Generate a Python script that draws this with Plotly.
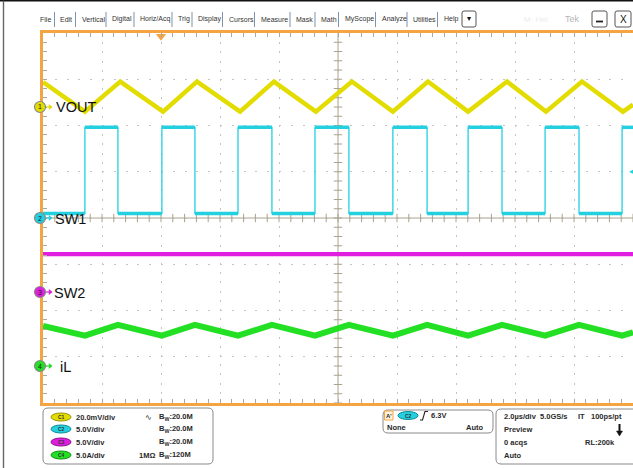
import plotly.graph_objects as go
import numpy as np

W, H = 633, 468

# ---------------- data (read from the screen) ----------------
# channel setup
ch_names = ["VOUT", "SW1", "SW2", "iL"]
ch_scale = [20.0, 5.0, 5.0, 5.0]          # units per division (mV, V, V, A)
ch_pos = [2.4, 0.0, -1.6, -3.2]           # ground marker position, divisions

# C1 VOUT (mV, AC ripple)
vout_t = [0.0, 1.42, 2.62, 4.07, 5.22, 6.68, 7.83, 9.25, 10.47, 11.86,
          13.05, 14.41, 15.73, 17.05, 18.27, 19.66, 20.0]
vout_mv = [10.8, -2.0, 11.0, -2.0, 11.0, -2.0, 11.0, -2.0, 11.0, -2.0,
           11.0, -2.0, 11.0, -2.0, 11.0, -2.0, 1.0]

# C2 SW1 (V) switching edges
sw1_rise_us = [1.42, 4.03, 6.61, 9.22, 11.86, 14.41, 17.02, 19.63]
sw1_fall_us = [2.54, 5.15, 7.76, 10.37, 13.02, 15.56, 18.17]
sw1_low_v = 0.5
sw1_high_v = 9.8

# C3 SW2 (V)
sw2_t = [0.0, 20.0]
sw2_v = [4.1, 4.1]

# C4 iL (A)
il_t = [0.0, 1.42, 2.54, 4.03, 5.15, 6.61, 7.76, 9.22, 10.37, 11.86,
        13.02, 14.41, 15.56, 17.02, 18.17, 19.63, 20.0]
il_a = [4.33, 3.28, 4.45, 3.28, 4.45, 3.28, 4.45, 3.28, 4.45, 3.28,
        4.45, 3.28, 4.45, 3.28, 4.45, 3.28, 3.65]

# timebase
t_per_div = 2.0
n_xdiv = 10
n_ydiv = 8
trig_t = 4.0
trig_level_div = 1.0

menu_items = ["File", "Edit", "Vertical", "Digital", "Horiz/Acq", "Trig", "Display",
              "Cursors", "Measure", "Mask", "Math", "MyScope", "Analyze", "Utilities", "Help"]

# ---------------- styling ----------------
C_Y = "#e3dc00"
C_C = "#22d0e0"
C_M = "#e01ee0"
C_G = "#24e024"
ORANGE = "#f4a542"
GRID = "#c4c4c4"
CENTER = "#aaa28e"
ch_col = [C_Y, C_C, C_M, C_G]
ch_dark = ["#9a9400", "#0e8e9a", "#8e108e", "#129012"]

X0PX, X1PX, Y0PX, Y1PX = 43, 633, 33, 403

def px(x):
    return x / W

def py(y):
    return 1 - y / H

def div_to_py(d):
    return (Y0PX + Y1PX) / 2 - d * (Y1PX - Y0PX) / n_ydiv

def to_div(vals, k):
    return [ch_pos[k] + v / ch_scale[k] for v in vals]

fig = go.Figure()

# center tick marks (decoration)
tx = np.arange(0, t_per_div * n_xdiv + 1e-9, t_per_div / 5)
ty = np.arange(-n_ydiv / 2, n_ydiv / 2 + 1e-9, 0.2)
fig.add_trace(go.Scatter(x=tx, y=[0] * len(tx), mode="markers", hoverinfo="skip",
                         marker=dict(symbol="line-ns", size=6, line=dict(color=CENTER, width=1))))
fig.add_trace(go.Scatter(x=[10] * len(ty), y=ty, mode="markers", hoverinfo="skip",
                         marker=dict(symbol="line-ew", size=6, line=dict(color=CENTER, width=1))))

# SW2
fig.add_trace(go.Scatter(x=sw2_t, y=to_div(sw2_v, 2), mode="lines",
                         line=dict(color=C_M, width=4.2)))
# iL
fig.add_trace(go.Scatter(x=il_t, y=to_div(il_a, 3), mode="lines",
                         line=dict(color=C_G, width=6)))

# SW1: thin edges + thick (noisy) plateaus
edges = sorted([(t, "r") for t in sw1_rise_us] + [(t, "f") for t in sw1_fall_us])
ex, ey = [0.0], [sw1_low_v]
for t, kind in edges:
    if kind == "r":
        ex += [t, t]; ey += [sw1_low_v, sw1_high_v]
    else:
        ex += [t, t]; ey += [sw1_high_v, sw1_low_v]
ex.append(20.0); ey.append(ey[-1])
fig.add_trace(go.Scatter(x=ex, y=to_div(ey, 1), mode="lines",
                         line=dict(color=C_C, width=1.3)))
pl_x, pl_y = [], []
for i in range(len(ex) - 1):
    if ey[i] == ey[i + 1]:
        pl_x += [ex[i], ex[i + 1], None]
        pl_y += [ch_pos[1] + ey[i] / ch_scale[1], ch_pos[1] + ey[i + 1] / ch_scale[1], None]
fig.add_trace(go.Scatter(x=pl_x, y=pl_y, mode="lines", line=dict(color=C_C, width=3.5)))

# VOUT
fig.add_trace(go.Scatter(x=vout_t, y=to_div(vout_mv, 0), mode="lines",
                         line=dict(color=C_Y, width=4.5)))

# trigger position marker
fig.add_trace(go.Scatter(x=[trig_t], y=[3.93], mode="markers", cliponaxis=False,
                         marker=dict(symbol="triangle-down", size=9, color=ORANGE)))

# channel ground marker arrows
for k in range(4):
    fig.add_trace(go.Scatter(x=[0.08, 0.22], y=[ch_pos[k], ch_pos[k]], mode="lines", cliponaxis=False,
                             line=dict(color=ch_col[k], width=1.2)))
    fig.add_trace(go.Scatter(x=[0.24], y=[ch_pos[k]], mode="markers", cliponaxis=False,
                             marker=dict(symbol="triangle-right", size=5, color=ch_col[k])))

shapes = []
annotations = []

def txt(x, y, s, size=7.5, color="#2a2a2a", bold=True, anchor="left", family="Arial"):
    annotations.append(dict(x=px(x), y=py(y), xref="paper", yref="paper", text=(f"<b>{s}</b>" if bold else s),
                            showarrow=False, xanchor=anchor, yanchor="middle",
                            font=dict(size=size, color=color, family=family)))

# channel ground marker circles (paper coords, drawn above the axis line)
for k in range(4):
    cy = div_to_py(ch_pos[k])
    shapes.append(dict(type="circle", xref="paper", yref="paper", x0=px(34.5), x1=px(45.5),
                       y0=py(cy - 5.5), y1=py(cy + 5.5), fillcolor=ch_col[k],
                       line=dict(color="#8a8a8a", width=1.2), layer="above"))
    txt(40, cy, str(k + 1), size=7, color="#222", bold=False, anchor="center")

# centre lines
shapes.append(dict(type="line", xref="x", yref="y", x0=10, x1=10, y0=-4, y1=4,
                   line=dict(color=CENTER, width=1), layer="below"))
shapes.append(dict(type="line", xref="x", yref="y", x0=0, x1=20, y0=0, y1=0,
                   line=dict(color=CENTER, width=1), layer="below"))
# outer frame
shapes.append(dict(type="line", xref="paper", yref="paper", x0=0, x1=1, y0=py(0.8), y1=py(0.8),
                   line=dict(color="#111", width=1.6)))
shapes.append(dict(type="line", xref="paper", yref="paper", x0=px(3.5), x1=px(3.5), y0=0, y1=py(0.8),
                   line=dict(color="#666", width=1.4)))

def rrect(x0, y0, x1, y1, r=5, color="#8a8a8a", width=1, fill=None):
    a0, a1 = px(x0), px(x1)
    b0, b1 = py(y0), py(y1)
    rx, ry = r / W, r / H
    path = (f"M {a0+rx},{b0} L {a1-rx},{b0} Q {a1},{b0} {a1},{b0-ry} "
            f"L {a1},{b1+ry} Q {a1},{b1} {a1-rx},{b1} L {a0+rx},{b1} "
            f"Q {a0},{b1} {a0},{b1+ry} L {a0},{b0-ry} Q {a0},{b0} {a0+rx},{b0} Z")
    d = dict(type="path", xref="paper", yref="paper", path=path,
             line=dict(color=color, width=width))
    if fill:
        d["fillcolor"] = fill
    return d

# bottom panels
shapes.append(rrect(43, 408, 213, 464))
shapes.append(rrect(383, 410, 493, 433))
shapes.append(rrect(496, 409, 660, 464))

def badge(x0, y0, label, k):
    shapes.append(dict(type="circle", xref="paper", yref="paper", x0=px(x0), x1=px(x0 + 20),
                       y0=py(y0), y1=py(y0 + 8), fillcolor=ch_col[k],
                       line=dict(color=ch_dark[k], width=1)))
    txt(x0 + 10, y0 + 4, label, size=5, color="#333", anchor="center")

rows = [417, 429, 442, 455]
vdiv = ["20.0mV/div", "5.0V/div", "5.0V/div", "5.0A/div"]
bw = ["20.0M", "20.0M", "20.0M", "120M"]
for k in range(4):
    badge(51, rows[k] - 4, f"C{k+1}", k)
    txt(74, rows[k], vdiv[k])
    txt(157, rows[k], f"B<sub>W</sub>:{bw[k]}")
txt(143, 417, "∿", size=8, bold=False)
txt(137, 455, "1MΩ")

# trigger panel
shapes.append(dict(type="rect", xref="paper", yref="paper", x0=px(384.5), x1=px(393), y0=py(411), y1=py(420),
                   line=dict(color=ORANGE, width=1), fillcolor="#fff4e0"))
txt(388.7, 415.5, "A'", size=6, anchor="center")
badge(398, 411.5, "C2", 1)
shapes.append(dict(type="path", xref="paper", yref="paper",
                   path=f"M {px(420)},{py(420)} L {px(422.5)},{py(420)} L {px(425)},{py(411.5)} L {px(428)},{py(411.5)}",
                   line=dict(color="#222", width=1.1)))
txt(429, 415.5, "6.3V")
txt(385, 427, "None")
txt(464, 427, "Auto")

# horizontal panel
txt(502, 416, "2.0µs/div")
txt(538, 416, "5.0GS/s")
txt(576, 416, "IT")
txt(589, 416, "100ps/pt")
txt(502, 429, "Preview")
txt(502, 442, "0 acqs")
txt(583, 442, "RL:200k")
txt(502, 455, "Auto")
shapes.append(dict(type="line", xref="paper", yref="paper", x0=px(619.5), x1=px(619.5), y0=py(424), y1=py(432),
                   line=dict(color="#111", width=2)))
shapes.append(dict(type="path", xref="paper", yref="paper",
                   path=f"M {px(616.5)},{py(431)} L {px(622.5)},{py(431)} L {px(619.5)},{py(436)} Z",
                   fillcolor="#111", line=dict(color="#111", width=0.5)))

# menu bar
menu_x = [38, 58, 80, 110, 138, 176, 196, 227, 259, 294, 319, 343, 380, 411, 442]
sep_x = [54.5, 75.5, 106, 134, 172, 192, 222.5, 254.5, 290, 315, 338.5, 375.5, 407, 437.5]
for s, x in zip(menu_items, menu_x):
    txt(x, 19.5, s, size=7, color="#333", bold=False)
for x in sep_x:
    shapes.append(dict(type="line", xref="paper", yref="paper", x0=px(x), x1=px(x), y0=py(12), y1=py(27),
                       line=dict(color="#7f93aa", width=1)))
shapes.append(rrect(462, 11, 476, 27, r=2, color="#555", width=1))
txt(469, 19, "▾", size=8, color="#111", bold=False, anchor="center")
shapes.append(rrect(592, 11, 607, 27, r=2, color="#555", width=1))
shapes.append(dict(type="line", xref="paper", yref="paper", x0=px(596), x1=px(603), y0=py(21.5), y1=py(21.5),
                   line=dict(color="#222", width=1.8)))
shapes.append(rrect(615, 11, 631, 27, r=2, color="#555", width=1))
txt(623, 19.5, "X", size=10, color="#111", bold=False, anchor="center")
txt(563, 19.5, "Tek", size=9, color="#b4b4b4", bold=False)
txt(522, 19.5, "M· Hel", size=8, color="#ececec", bold=False)

# channel labels
label_x = [54, 53, 52, 58]
for k in range(4):
    txt(label_x[k], div_to_py(ch_pos[k]) + 0.5, ch_names[k], size=14.5, color="#111", bold=False)

# trigger level arrow on right
annotations.append(dict(x=19.87, y=trig_level_div, xref="x", yref="y", ax=10, ay=0,
                        text="", showarrow=True, arrowhead=2, arrowsize=0.8, arrowwidth=1,
                        arrowcolor=C_C))

axis_common = dict(showticklabels=False, zeroline=False, showgrid=True, gridcolor=GRID,
                   gridwidth=1, showline=True, linecolor=ORANGE,
                   ticks="inside", ticklen=4, tickcolor="#a8a8a8", tickwidth=1)

fig.update_layout(
    width=W, height=H, margin=dict(l=0, r=0, t=0, b=0),
    paper_bgcolor="white", plot_bgcolor="white", showlegend=False,
    xaxis=dict(domain=[px(X0PX), px(X1PX)], range=[0, t_per_div * n_xdiv], dtick=t_per_div, tick0=0,
               mirror="ticks", linewidth=2.5, griddash="2px,7.2px",
               minor=dict(dtick=t_per_div / 5, ticks="inside", ticklen=4, tickcolor="#a8a8a8", showgrid=False),
               **axis_common),
    yaxis=dict(domain=[py(Y1PX), py(Y0PX)], range=[-n_ydiv / 2, n_ydiv / 2], dtick=1, tick0=0,
               mirror=False, linewidth=3, griddash="2px,9.8px",
               minor=dict(dtick=0.2, ticks="inside", ticklen=4, tickcolor="#a8a8a8", showgrid=False),
               **axis_common),
    shapes=shapes, annotations=annotations,
)

fig.write_html("out.html", config={"displayModeBar": False},
               post_script="document.body.style.margin='0';document.body.style.overflow='hidden';")
